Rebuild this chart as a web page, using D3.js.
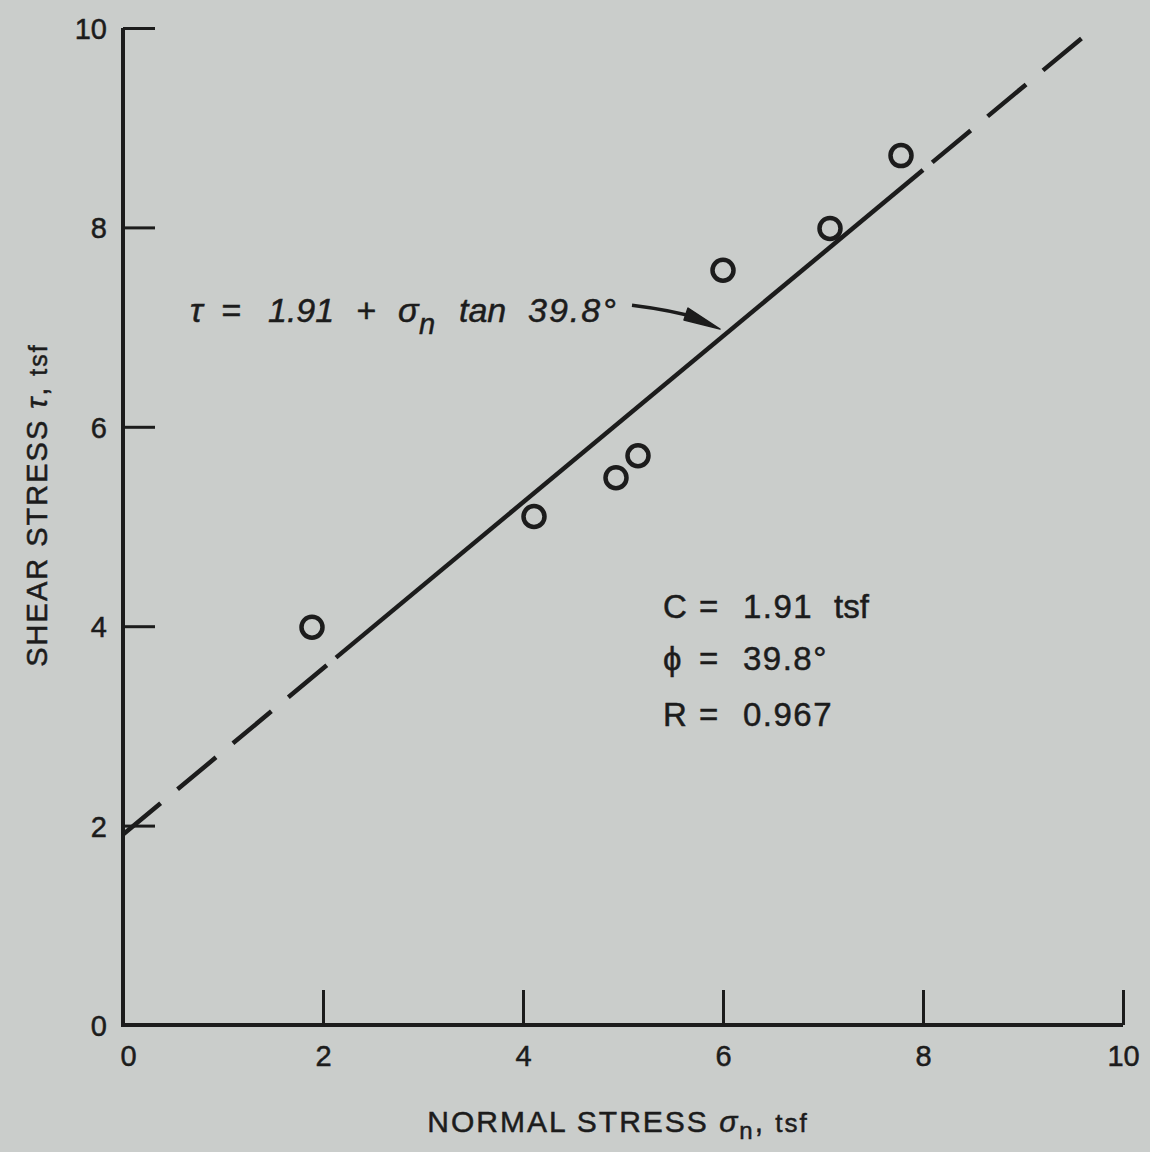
<!DOCTYPE html>
<html>
<head>
<meta charset="utf-8">
<script src="https://cdn.jsdelivr.net/npm/d3@7"></script>
<style>
  body { margin: 0; background: #cacdcb; }
  svg { display: block; }
  text { font-family: "Liberation Sans", Arial, sans-serif; fill: #1c1c1c; stroke: #1c1c1c; stroke-width: 0.5px; }
</style>
</head>
<body>
<script>
// test results (normal stress, shear stress in tsf)
var sigmaN = [1.89, 4.11, 4.93, 5.15, 6.00, 7.07, 7.78];
var tau    = [3.99, 5.10, 5.49, 5.71, 7.57, 7.99, 8.72];

var xTicks = [0, 2, 4, 6, 8, 10];
var yTicks = [0, 2, 4, 6, 8, 10];

// fitted envelope
var cohesion = 1.91, phiDeg = 39.8, rValue = 0.967;
var fitExtent = [0, 9.67],
    solidPart = [2.13, 8.0];

var ink = "#1c1c1c";
var W = 1150, H = 1152;

var x = d3.scaleLinear().domain([0, 10]).range([123, 1123]),
    y = d3.scaleLinear().domain([0, 10]).range([1025, 28]);

var svg = d3.select("body").append("svg")
    .attr("width", W).attr("height", H);

svg.append("rect").attr("width", W).attr("height", H).attr("fill", "#cacdcb");

// ---- axes
var yAxis = d3.axisLeft(y).tickValues(yTicks)
    .tickSizeInner(-32).tickSizeOuter(0).tickPadding(16);
var xAxis = d3.axisBottom(x).tickValues(xTicks)
    .tickSizeInner(-35).tickSizeOuter(0).tickPadding(23);

var gy = svg.append("g").attr("transform", "translate(" + x(0) + ",0)").call(yAxis);
var gx = svg.append("g").attr("transform", "translate(0," + y(0) + ")").call(xAxis);

[gx, gy].forEach(function(g){
  g.select(".domain").remove();
  g.selectAll(".tick line").attr("stroke", ink).attr("stroke-width", 3);
  g.selectAll(".tick text")
    .style("font-family", '"Liberation Sans", Arial, sans-serif')
    .attr("font-size", 29).attr("fill", ink);
});
gy.selectAll(".tick text").attr("dy", "0.36em");
gx.selectAll(".tick text").attr("dy", "0.62em");
gx.selectAll(".tick text").filter(function(d){ return d === 0; }).attr("dx", 5);

svg.append("path")
    .attr("d", "M" + x(0) + "," + y(10) + "V" + y(0) + "H" + x(10))
    .attr("fill", "none").attr("stroke", ink).attr("stroke-width", 4)
    .attr("stroke-linejoin", "miter");

// ---- fitted line
var tanPhi = Math.tan(phiDeg * Math.PI / 180);
function fit(s){ return cohesion + s * tanPhi; }
var line = d3.line().x(function(s){ return x(s); }).y(function(s){ return y(fit(s)); });

svg.append("path").attr("d", line(solidPart))
    .attr("fill", "none").attr("stroke", ink).attr("stroke-width", 4.5);

// dashed extensions, drawn outward from the solid part
[[solidPart[0], fitExtent[0]], [solidPart[1], fitExtent[1]]].forEach(function(seg){
  svg.append("path").attr("d", line(seg))
    .attr("fill", "none").attr("stroke", ink).attr("stroke-width", 4.5)
    .attr("stroke-dasharray", "50,22").attr("stroke-dashoffset", 60);
});

// ---- data points
svg.selectAll("circle.pt").data(sigmaN).enter().append("circle")
    .attr("class", "pt")
    .attr("cx", function(d){ return x(d); })
    .attr("cy", function(d, i){ return y(tau[i]); })
    .attr("r", 10.5)
    .attr("fill", "none").attr("stroke", ink).attr("stroke-width", 4.5);

// ---- equation label with arrow
var eq = svg.append("text").attr("y", 322)
    .attr("font-size", 34).attr("font-style", "italic");
eq.append("tspan").attr("x", 190).text("τ");
eq.append("tspan").attr("x", 221).text("=");
eq.append("tspan").attr("x", 268).text("1.91");
eq.append("tspan").attr("x", 356).text("+");
eq.append("tspan").attr("x", 398).text("σ");
eq.append("tspan").attr("x", 419).attr("dy", 12).attr("font-size", 29).text("n");
eq.append("tspan").attr("x", 459).attr("dy", -12).text("tan");
eq.append("tspan").attr("x", 528).attr("letter-spacing", 2).text("39.8°");

var a0 = [x(5.09), y(7.22)], a1 = [x(5.97), y(6.98)];
svg.append("path")
    .attr("d", "M" + a0[0] + "," + a0[1] + "Q" + (a0[0] + 40) + "," + (a0[1] + 5) + " " + (a1[0] - 22) + "," + (a1[1] - 11))
    .attr("fill", "none").attr("stroke", ink).attr("stroke-width", 3.5);
svg.append("path")
    .attr("d", "M" + a1[0] + "," + a1[1] + "L" + (a1[0] - 32) + "," + (a1[1] - 21) + "L" + (a1[0] - 36) + "," + (a1[1] - 9) + "Z")
    .attr("fill", ink).attr("stroke", ink).attr("stroke-width", 1.5).attr("stroke-linejoin", "round");

// ---- fit statistics
var stats = [
  { label: "C",  value: cohesion.toFixed(2), unit: "tsf", base: 618 },
  { label: "ϕ",  value: phiDeg.toFixed(1) + "°", unit: "", base: 670 },
  { label: "R",  value: rValue.toFixed(3), unit: "", base: 726 }
];
stats.forEach(function(s){
  var t = svg.append("text").attr("y", s.base).attr("font-size", 33);
  t.append("tspan").attr("x", 663).text(s.label);
  t.append("tspan").attr("x", 699).text("=");
  t.append("tspan").attr("x", 743).attr("letter-spacing", 1.5).text(s.value);
  if (s.unit) t.append("tspan").attr("x", 834).text(s.unit);
});

// ---- axis titles
var xt = svg.append("text").attr("x", 618).attr("y", 1132)
    .attr("text-anchor", "middle").attr("font-size", 30).attr("letter-spacing", 2);
xt.append("tspan").text("NORMAL STRESS ");
xt.append("tspan").attr("font-style", "italic").text("σ");
xt.append("tspan").attr("font-size", 24).attr("dy", 7).text("n");
xt.append("tspan").attr("dy", -7).text(",  ");
xt.append("tspan").attr("font-size", 26).text("tsf");

var yt = svg.append("text")
    .attr("transform", "translate(47,505) rotate(-90)")
    .attr("text-anchor", "middle").attr("font-size", 29).attr("letter-spacing", 2);
yt.append("tspan").text("SHEAR STRESS ");
yt.append("tspan").attr("font-style", "italic").text("τ");
yt.append("tspan").text(",  ");
yt.append("tspan").attr("font-size", 25).text("tsf");
</script>
</body>
</html>
